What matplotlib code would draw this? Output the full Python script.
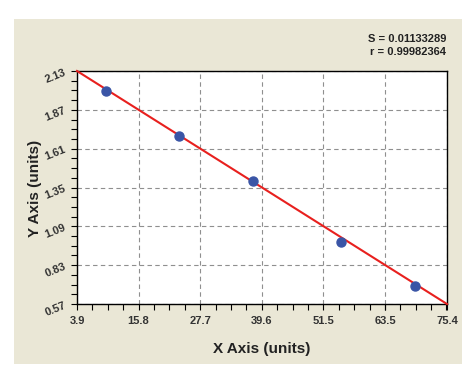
import numpy as np
import matplotlib.pyplot as plt
from matplotlib.patches import Rectangle
from matplotlib.ticker import AutoMinorLocator

plt.rcParams['font.family'] = ['Liberation Sans', 'DejaVu Sans']

# ─── DATA ─────────────────────────────────────────────
x_pts = [9.45, 23.6, 37.97, 54.9, 69.2]
y_pts = [1.998, 1.697, 1.396, 0.987, 0.693]

fit_x = [3.9, 75.4]
fit_y = [2.13, 0.57]

x_ticks = [3.9, 15.8, 27.7, 39.6, 51.5, 63.5, 75.4]
x_labels = ["3.9", "15.8", "27.7", "39.6", "51.5", "63.5", "75.4"]
y_ticks = [0.57, 0.83, 1.09, 1.35, 1.61, 1.87, 2.13]
y_labels = ["0.57", "0.83", "1.09", "1.35", "1.61", "1.87", "2.13"]

s_text = "S = 0.01133289"
r_text = "r = 0.99982364"

# ─── PLOT ─────────────────────────────────────────────
W, H = 474, 369
fig = plt.figure(figsize=(W / 100, H / 100), dpi=100)
fig.patch.set_facecolor("white")

# beige panel behind the chart
fig.patches.append(Rectangle((14 / W, 1 - 364 / H), 448 / W, 345 / H,
                             transform=fig.transFigure, facecolor="#EAE7D6",
                             edgecolor="none", zorder=-10))

ax = fig.add_axes([77 / W, 1 - 304 / H, 370 / W, 233 / H])
ax.set_zorder(1)
ax.set_facecolor("white")

ax.plot(fit_x, fit_y, color="#E8201E", lw=1.5, zorder=3, clip_on=False)
ax.plot(x_pts, y_pts, "o", color="#3A55A6", markersize=6.5, zorder=4)

ax.set_xlim(3.9, 75.4)
ax.set_ylim(0.57, 2.13)
ax.set_xticks(x_ticks)
ax.set_xticklabels(x_labels, fontsize=8, fontweight="bold", color="#333333")
ax.set_yticks(y_ticks)
ax.set_yticklabels(y_labels, fontsize=8, fontweight="bold", color="#333333",
                   rotation=22)
ax.xaxis.set_minor_locator(AutoMinorLocator(4))
ax.yaxis.set_minor_locator(AutoMinorLocator(4))
ax.tick_params(which="both", direction="out", length=4, width=0.8, color="black")
ax.tick_params(axis="x", pad=5)
ax.tick_params(axis="y", pad=3)

ax.grid(True, which="major", color="#8F8F8F", linestyle=(0, (4, 3)), lw=0.8)
ax.set_axisbelow(True)
for sp in ax.spines.values():
    sp.set_linewidth(1.0)
    sp.set_color("black")

fig.text(0.5 * (77 + 447) / W, 1 - 349 / H, "X Axis (units)", ha="center",
         va="center", fontsize=11, fontweight="bold", color="#222222")
fig.text(35 / W, 1 - 188 / H, "Y Axis (units)", ha="center", va="center",
         rotation=90, fontsize=11, fontweight="bold", color="#222222")

fig.text(446 / W, 1 - 39 / H, s_text, ha="right", va="center", fontsize=8,
         fontweight="bold", color="#222222")
fig.text(446 / W, 1 - 52 / H, r_text, ha="right", va="center", fontsize=8,
         fontweight="bold", color="#222222")

fig.savefig("out.png", dpi=100)
